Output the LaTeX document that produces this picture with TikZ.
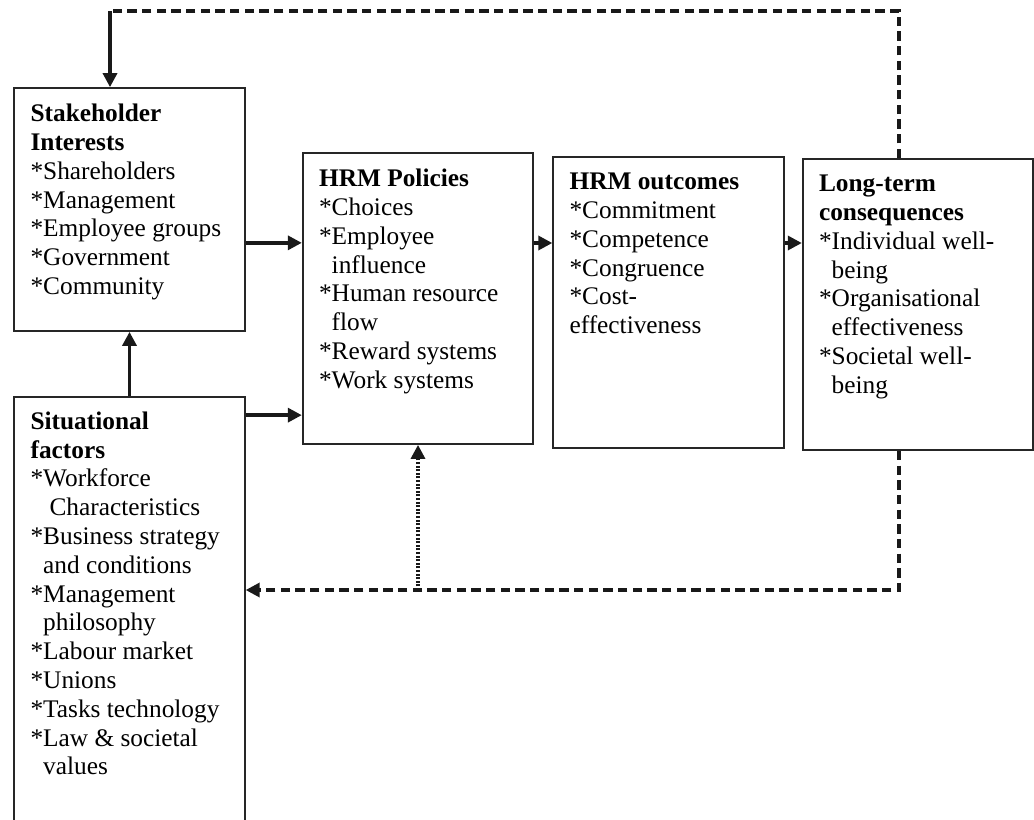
\documentclass[tikz,border=0pt]{standalone}
\usepackage{fontspec}
\setmainfont{Liberation Serif}
\usetikzlibrary{positioning,arrows.meta}
\newcommand{\ind}{\phantom{*}}
\begin{document}
\begin{tikzpicture}
		[x=0.75pt,y=-0.75pt,
		box/.style ={rectangle, draw=black!85, line width=1.3pt, minimum width=173pt, minimum height=218.25pt, inner sep=0pt},
		txt/.style ={inner sep=0pt, align=left, font=\fontsize{19pt}{21.6pt}\selectfont},
		arr/.style ={draw=black!90, line width=2.5pt, -{Triangle[length=10.5pt,width=10.5pt]}},
		fback/.style ={draw=black!90, line width=2.5pt, dash pattern=on 7pt off 4pt},
		dots/.style ={draw=black!90, line width=2.4pt, dash pattern=on 1.5pt off 1.2pt}]
		\useasboundingbox (0,0) rectangle (1034,819);
		\draw (129.5,209.5) node[box, minimum height=182.25pt] (stake) {};
		\draw (129.5,613.5) node[box, minimum height=324.75pt] (situ) {};
		\draw (418,298.5) node[box] (policy) {};
		\draw (668.5,302.5) node[box] (outcome) {};
		\draw (918,304.5) node[box] (longterm) {};
		% box texts
		\node[txt, below right=12.5pt and 12.75pt of stake.north west] (staketxt)
			{\textbf{Stakeholder}\\\textbf{Interests}\\*Shareholders\\*Management\\*Employee groups\\*Government\\*Community};
		\node[txt, below right=11.5pt and 12.75pt of situ.north west] (situtxt)
			{\textbf{Situational}\\\textbf{factors}\\*Workforce\\\ind\ Characteristics\\*Business strategy\\\ind and conditions\\*Management\\\ind philosophy\\*Labour market\\*Unions\\*Tasks technology\\*Law \& societal\\\ind values};
		\node[txt, below right=12.5pt and 12.75pt of policy.north west] (policytxt)
			{\textbf{HRM Policies}\\*Choices\\*Employee\\\ind influence\\*Human resource\\\ind flow\\*Reward systems\\*Work systems};
		\node[txt, below right=12.5pt and 12.75pt of outcome.north west] (outcometxt)
			{\textbf{HRM outcomes}\\*Commitment\\*Competence\\*Congruence\\*Cost-\\effectiveness};
		\node[txt, below right=12.5pt and 12.75pt of longterm.north west] (longtermtxt)
			{\textbf{Long-term}\\\textbf{consequences}\\*Individual well-\\\ind being\\*Organisational\\\ind effectiveness\\*Societal well-\\\ind being};
		% connectors
		\coordinate (midrow) at (0,243);
		\coordinate (fbtop) at (899,11);
		\coordinate (corner) at (110,11);
		\coordinate (fbbot) at (899,590);
		\draw[arr] ([yshift=-25pt]stake.east) -- ([yshift=-25pt]stake.east -| policy.west);
		\draw[arr] ([yshift=-14.25pt]situ.north east) -- ([yshift=-14.25pt]situ.north east -| policy.west);
		\draw[arr] (situ.north) -- (stake.south);
		\draw[arr] (policy.east |- midrow) -- (outcome.west |- midrow);
		\draw[arr] (outcome.east |- midrow) -- (longterm.west |- midrow);
		\draw[fback] (longterm.north -| fbtop) -- (fbtop) -- (corner);
		\draw[arr] (corner) -- (corner |- stake.north);
		\draw[fback, -{Triangle[length=10.5pt,width=10.5pt]}] (longterm.south -| fbbot) -- (fbbot) -- (fbbot -| situ.east);
		\draw[dots, -{Triangle[length=10.5pt,width=10.5pt]}] (fbbot -| policy.south) -- (policy.south);
	\end{tikzpicture}
\end{document}
